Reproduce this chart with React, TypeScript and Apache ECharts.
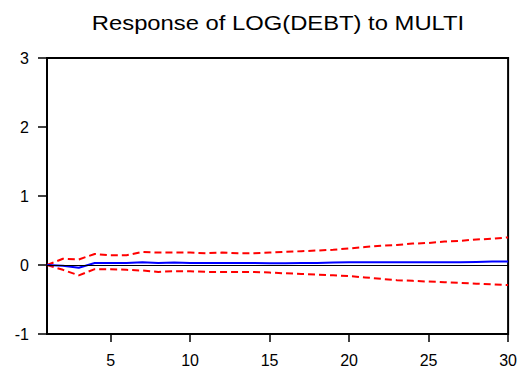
import React, { useEffect, useRef } from "react";
import * as echarts from "echarts";

const periods = Array.from({ length: 30 }, (_, i) => i + 1);
const response = [0, -0.01, -0.04, 0.03, 0.03, 0.03, 0.04, 0.03, 0.035, 0.03, 0.03, 0.03, 0.03, 0.03, 0.025, 0.025, 0.03, 0.03, 0.035, 0.04, 0.04, 0.04, 0.04, 0.04, 0.04, 0.04, 0.04, 0.045, 0.05, 0.05];
const upper = [0, 0.09, 0.08, 0.16, 0.14, 0.14, 0.19, 0.18, 0.18, 0.18, 0.17, 0.18, 0.17, 0.17, 0.18, 0.19, 0.2, 0.21, 0.22, 0.24, 0.26, 0.28, 0.29, 0.31, 0.32, 0.34, 0.35, 0.37, 0.38, 0.4];
const lower = [0, -0.07, -0.15, -0.06, -0.06, -0.07, -0.08, -0.1, -0.09, -0.09, -0.1, -0.1, -0.1, -0.1, -0.11, -0.12, -0.13, -0.14, -0.15, -0.16, -0.18, -0.2, -0.22, -0.23, -0.24, -0.25, -0.26, -0.27, -0.28, -0.29];
const xTicks = [5, 10, 15, 20, 25, 30];
const title = "Response of LOG(DEBT) to MULTI";

const font = "'Liberation Sans', Arial, sans-serif";

export default function App() {
  const ref = useRef<HTMLDivElement>(null);
  useEffect(() => {
    if (!ref.current) return;
    const chart = echarts.init(ref.current, null, { renderer: "svg" });
    const pair = (arr: number[]) => arr.map((v, i) => [periods[i], v]);
    chart.setOption({
      animation: false,
      backgroundColor: "#ffffff",
      graphic: [
        {
          type: "text",
          x: 278,
          y: 23,
          scaleX: 1.19,
          style: {
            text: title,
            x: 0,
            y: 0,
            align: "center",
            verticalAlign: "middle",
            fontFamily: font,
            fontSize: 20,
            fill: "#000",
          },
        },
      ],
      grid: {
        left: 47,
        right: 8,
        top: 58,
        bottom: 35,
        show: true,
        borderColor: "#000",
        borderWidth: 2,
        backgroundColor: "transparent",
      },
      xAxis: {
        type: "value",
        min: 1,
        max: 30,
        axisLine: { show: false, onZero: false },
        splitLine: { show: false },
        axisTick: {
          show: true,
          inside: false,
          length: 8,
          lineStyle: { color: "#000", width: 1.5 },
          customValues: xTicks,
        },
        axisLabel: {
          customValues: xTicks,
          margin: 18,
          color: "#000",
          fontFamily: font,
          fontSize: 16,
        },
      },
      yAxis: {
        type: "value",
        min: -1,
        max: 3,
        interval: 1,
        axisLine: { show: false, onZero: false },
        splitLine: { show: false },
        axisTick: { show: true, inside: false, length: 9, lineStyle: { color: "#000", width: 1.5 } },
        axisLabel: { margin: 18, color: "#000", fontFamily: font, fontSize: 16 },
      },
      series: [
        {
          type: "line",
          data: pair(upper),
          symbol: "none",
          lineStyle: { color: "#ff0000", width: 2, type: [7, 4] },
          z: 3,
        },
        {
          type: "line",
          data: pair(lower),
          symbol: "none",
          lineStyle: { color: "#ff0000", width: 2, type: [7, 4] },
          z: 3,
        },
        {
          type: "line",
          data: pair(response),
          symbol: "none",
          lineStyle: { color: "#0000ff", width: 2 },
          z: 4,
          markLine: {
            silent: true,
            symbol: "none",
            label: { show: false },
            lineStyle: { color: "#000", width: 1, type: "solid" },
            data: [{ yAxis: 0 }],
          },
        },
      ],
    });
    return () => chart.dispose();
  }, []);
  return <div ref={ref} style={{ width: 520, height: 369, position: "absolute", left: 0, top: 0 }} />;
}
